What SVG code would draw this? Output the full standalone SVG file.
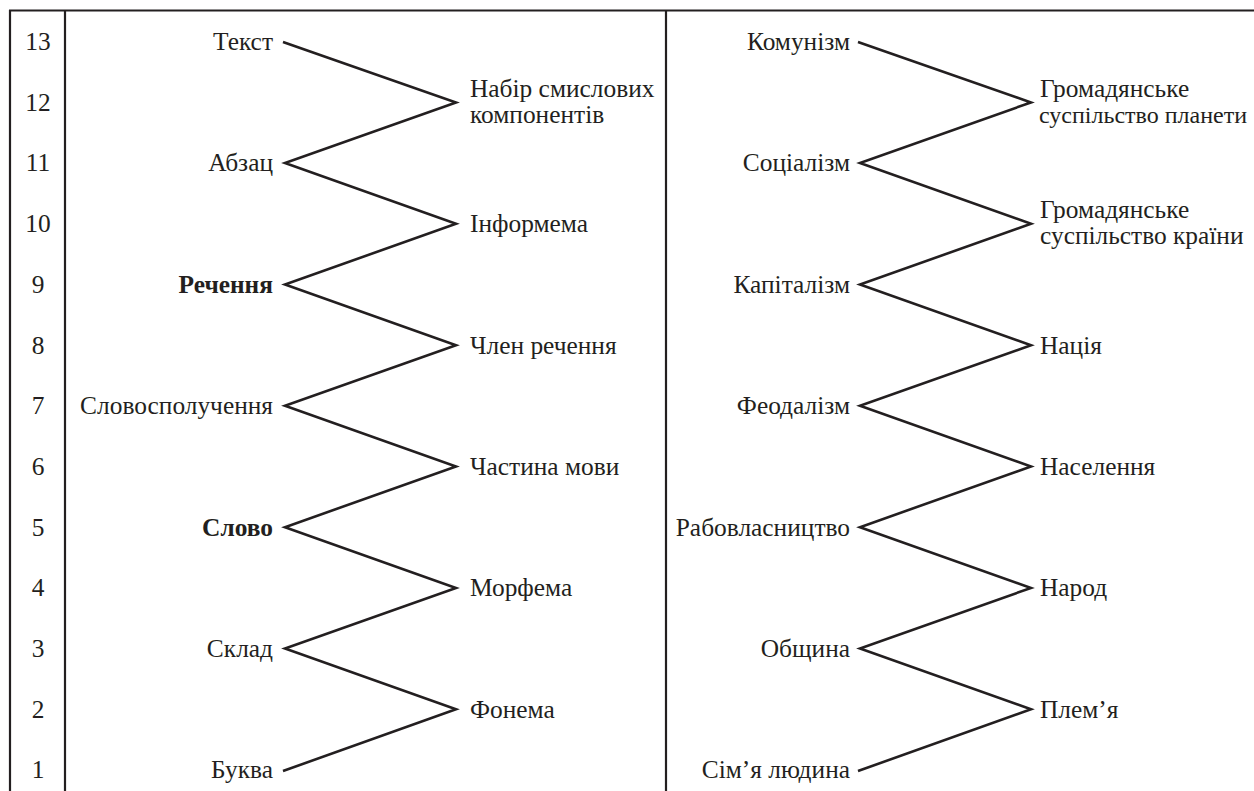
<svg xmlns="http://www.w3.org/2000/svg" width="1254" height="791" viewBox="0 0 1254 791">
<style>
text{font-family:"Liberation Serif","Times New Roman",serif;font-size:25.4px;fill:#231f20}
.b{font-weight:bold}
.l{text-anchor:end}
.n{text-anchor:middle}
.s{font-size:24px}
.frame{stroke:#231f20;stroke-width:2.2;fill:none}
.zz{stroke:#231f20;stroke-width:2.6;fill:none;stroke-linejoin:miter}
</style>
<rect width="1254" height="791" fill="#fff"/>
<g id="frame">
<line class="frame" x1="9" y1="10.5" x2="1254" y2="10.5"/>
<line class="frame" x1="10" y1="10" x2="10" y2="791"/>
<line class="frame" x1="65" y1="10" x2="65" y2="791"/>
<line class="frame" x1="666" y1="10" x2="666" y2="791"/>
</g>
<g id="levels">
<text class="n" x="38" y="50">13</text>
<text class="n" x="38" y="110.7">12</text>
<text class="n" x="38" y="171.4">11</text>
<text class="n" x="38" y="232.1">10</text>
<text class="n" x="38" y="292.8">9</text>
<text class="n" x="38" y="353.5">8</text>
<text class="n" x="38" y="414.1">7</text>
<text class="n" x="38" y="474.8">6</text>
<text class="n" x="38" y="535.5">5</text>
<text class="n" x="38" y="596.2">4</text>
<text class="n" x="38" y="656.9">3</text>
<text class="n" x="38" y="717.6">2</text>
<text class="n" x="38" y="778.3">1</text>
</g>
<g id="connectors">
<polyline class="zz" points="283,42 456,102.4 285,163.1 456,223.8 285,284.5 456,345.2 285,405.8 456,466.5 285,527.2 456,587.9 285,648.6 456,709.3 283,771"/>
<polyline class="zz" points="858,42 1031,102.4 860,163.1 1031,223.8 860,284.5 1031,345.2 860,405.8 1031,466.5 860,527.2 1031,587.9 860,648.6 1031,709.3 858,771"/>
</g>
<g id="n-tekst"><text class="l" x="273" y="50">Текст</text></g>
<g id="n-nabir"><text x="470" y="96.5">Набір смислових</text><text x="470" y="122.5">компонентів</text></g>
<g id="n-abzats"><text class="l" x="273" y="171.4">Абзац</text></g>
<g id="n-informema"><text x="470" y="232.1">Інформема</text></g>
<g id="n-rechennia"><text class="l b" x="273" y="292.8">Речення</text></g>
<g id="n-chlen"><text x="470" y="353.5">Член речення</text></g>
<g id="n-slovospoluchennia"><text class="l" x="273" y="414.1">Словосполучення</text></g>
<g id="n-chastyna"><text x="470" y="474.8">Частина мови</text></g>
<g id="n-slovo"><text class="l b" x="273" y="535.5">Слово</text></g>
<g id="n-morfema"><text x="470" y="596.2">Морфема</text></g>
<g id="n-sklad"><text class="l" x="273" y="656.9">Склад</text></g>
<g id="n-fonema"><text x="470" y="717.6">Фонема</text></g>
<g id="n-bukva"><text class="l" x="273" y="778.3">Буква</text></g>
<g id="n-komunizm"><text class="l" x="850" y="50">Комунізм</text></g>
<g id="n-gromada-planeta"><text x="1040" y="96.5">Громадянське</text><text class="s" x="1039" y="122.5">суспільство планети</text></g>
<g id="n-sotsializm"><text class="l" x="850" y="171.4">Соціалізм</text></g>
<g id="n-gromada-kraina"><text x="1040" y="218">Громадянське</text><text x="1040" y="244">суспільство країни</text></g>
<g id="n-kapitalizm"><text class="l" x="850" y="292.8">Капіталізм</text></g>
<g id="n-natsiia"><text x="1040" y="353.5">Нація</text></g>
<g id="n-feodalizm"><text class="l" x="850" y="414.1">Феодалізм</text></g>
<g id="n-naselennia"><text x="1040" y="474.8">Населення</text></g>
<g id="n-rabovlasnytstvo"><text class="l" x="850" y="535.5">Рабовласництво</text></g>
<g id="n-narod"><text x="1040" y="596.2">Народ</text></g>
<g id="n-obshchyna"><text class="l" x="850" y="656.9">Община</text></g>
<g id="n-plemia"><text x="1040" y="717.6">Плем’я</text></g>
<g id="n-simia"><text class="l" x="850" y="778.3">Сім’я людина</text></g>
</svg>
